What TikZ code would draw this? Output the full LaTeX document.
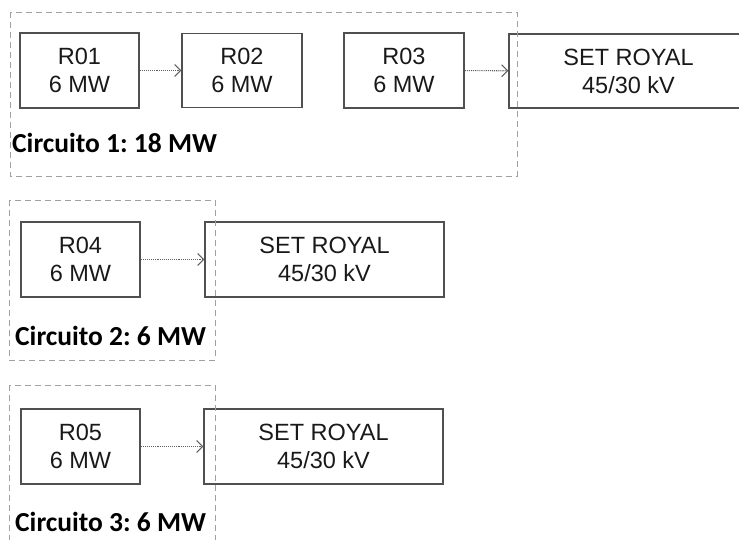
\documentclass[tikz,border=0pt]{standalone}
\usepackage{fontspec}
\setmainfont{Liberation Sans}
\newfontfamily\labfont{Carlito}
\usetikzlibrary{arrows.meta}
\definecolor{boxline}{HTML}{505050}
\definecolor{dashline}{HTML}{A0A0A0}
\definecolor{arrline}{HTML}{606060}
\frenchspacing
\begin{document}
\begin{tikzpicture}[x=1pt,y=-1pt,
  unit/.style={draw=boxline,line width=1.3pt,inner sep=0pt,align=center,
    font=\fontsize{23.5}{28}\selectfont,text=black!90},
  circbox/.style={draw=dashline,line width=1pt,dash pattern=on 6pt off 4pt},
  flow/.style={draw=arrline,line width=1.1pt,densely dotted,
    -{Straight Barb[length=6pt,width=12pt,line width=1pt]}},
  circlabel/.style={anchor=base west,inner sep=0pt,font=\labfont\bfseries\fontsize{27.5}{32}\selectfont}]
\useasboundingbox (0,0) rectangle (739,539);
\clip (0,0) rectangle (739,539);
% circuit 1
\node[unit,minimum width=119pt,minimum height=75pt] (R01) at (79.5,70.5) {R01\\6 MW};
\node[unit,minimum width=120pt,minimum height=74pt] (R02) at (242,70.5) {R02\\6 MW};
\node[unit,minimum width=120pt,minimum height=75pt] (R03) at (404,70.5) {R03\\6 MW};
\node[unit,minimum width=239pt,minimum height=74pt] (S1) at (628.5,71) {SET ROYAL\\45/30 kV};
\draw[flow] (R01) -- (R02);
\draw[flow] (R03) -- (S1);
\draw[circbox] (10,12) rectangle (517,176);
\node[circlabel] (L1) at (12,152) {Circuito 1: 18 MW};
% circuit 2
\node[unit,minimum width=119pt,minimum height=75pt] (R04) at (80.5,259.5) {R04\\6 MW};
\node[unit,minimum width=239pt,minimum height=75pt] (S2) at (324.5,259.5) {SET ROYAL\\45/30 kV};
\draw[flow] (R04) -- (S2);
\draw[circbox] (9,200) rectangle (215,360);
\node[circlabel] (L2) at (15,345) {Circuito 2: 6 MW};
% circuit 3
\node[unit,minimum width=119pt,minimum height=75pt] (R05) at (80.5,446.5) {R05\\6 MW};
\node[unit,minimum width=239pt,minimum height=75pt] (S3) at (323.5,446.5) {SET ROYAL\\45/30 kV};
\draw[flow] (R05) -- (S3);
\draw[circbox] (9,385) rectangle (215,560);
\node[circlabel] (L3) at (15,531) {Circuito 3: 6 MW};
\end{tikzpicture}
\end{document}
